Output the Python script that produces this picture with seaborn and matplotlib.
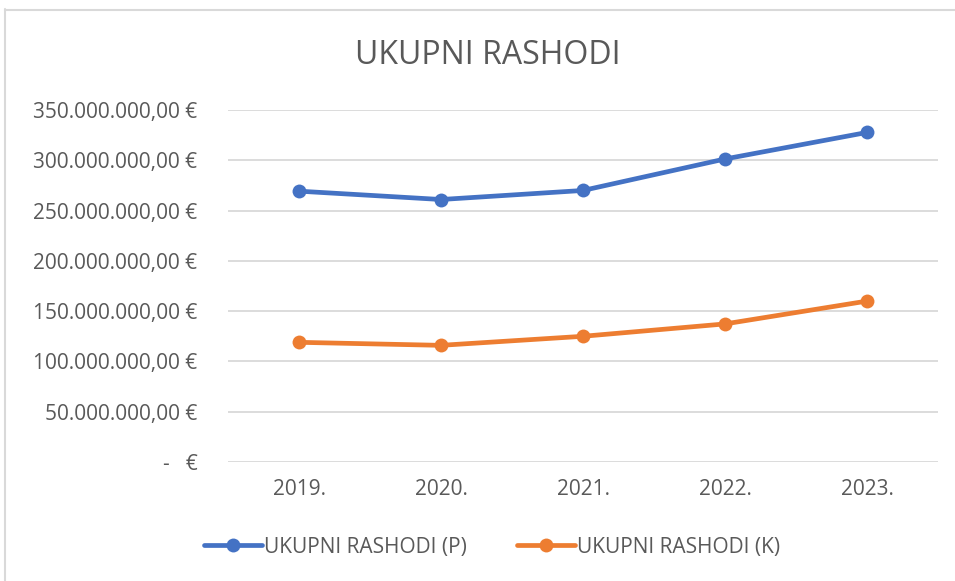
import matplotlib
matplotlib.use("Agg")
import matplotlib.pyplot as plt
import seaborn as sns
import pandas as pd
from matplotlib.lines import Line2D
from matplotlib.ticker import FuncFormatter, MultipleLocator

years = ["2019.", "2020.", "2021.", "2022.", "2023."]
rashodi_p = [269.3e6, 261.0e6, 270.0e6, 301.3e6, 327.7e6]
rashodi_k = [119.0e6, 116.0e6, 125.0e6, 137.3e6, 160.0e6]
series_names = ["UKUPNI RASHODI (P)", "UKUPNI RASHODI (K)"]
colors = ["#4472C4", "#ED7D31"]

df = pd.concat([
    pd.DataFrame({"Godina": years, "Iznos": rashodi_p, "Serija": series_names[0]}),
    pd.DataFrame({"Godina": years, "Iznos": rashodi_k, "Serija": series_names[1]}),
])

sns.set_theme(style="white")
plt.rcParams["font.family"] = ["Open Sans", "DejaVu Sans"]
text_color = "#595959"

fig = plt.figure(figsize=(9.55, 5.81), dpi=100)
ax = fig.add_axes([228/955, 119/581, 710/955, 352/581])

sns.lineplot(data=df, x="Godina", y="Iznos", hue="Serija", palette=colors,
             marker="o", markersize=10, linewidth=3.4, markeredgewidth=0,
             sort=False, ax=ax, legend=False)

ax.set_xlim(-0.5, 4.5)
ax.set_ylim(0, 350e6)
ax.yaxis.set_major_locator(MultipleLocator(50e6))

def fmt(v, pos):
    if abs(v) < 1:
        return "-   €"
    s = f"{v:,.2f}"
    s = s.replace(",", "X").replace(".", ",").replace("X", ".")
    return s + " €"

ax.yaxis.set_major_formatter(FuncFormatter(fmt))
ax.grid(axis="y", color="#d9d9d9", linewidth=1.3)
ax.grid(axis="x", visible=False)
for s in ax.spines.values():
    s.set_visible(False)
ax.tick_params(axis="both", length=0, labelsize=15, colors=text_color)
ax.tick_params(axis="y", pad=22)
ax.tick_params(axis="x", pad=12)
ax.set_xlabel("")
ax.set_ylabel("")

fig.text(488/955, 1 - 55/581, "UKUPNI RASHODI", ha="center", va="center",
         fontsize=23, color=text_color)

handles = [Line2D([0], [0], color=c, linewidth=3.4, marker="o", markersize=10,
                  markeredgewidth=0) for c in colors]
fig.legend(handles, series_names, loc="center", bbox_to_anchor=(492/955, 1 - 547/581),
           ncol=2, frameon=False, fontsize=15, labelcolor=text_color,
           handlelength=2.8, handletextpad=0.1, columnspacing=2.4)

fig.add_artist(Line2D([4.5/955, 4.5/955], [0, 1 - 9/581], transform=fig.transFigure,
                      color="#d9d9d9", linewidth=1.5))
fig.add_artist(Line2D([4.5/955, 1], [1 - 9.5/581, 1 - 9.5/581], transform=fig.transFigure,
                      color="#d9d9d9", linewidth=1.5))

fig.savefig("out.png", dpi=100)
